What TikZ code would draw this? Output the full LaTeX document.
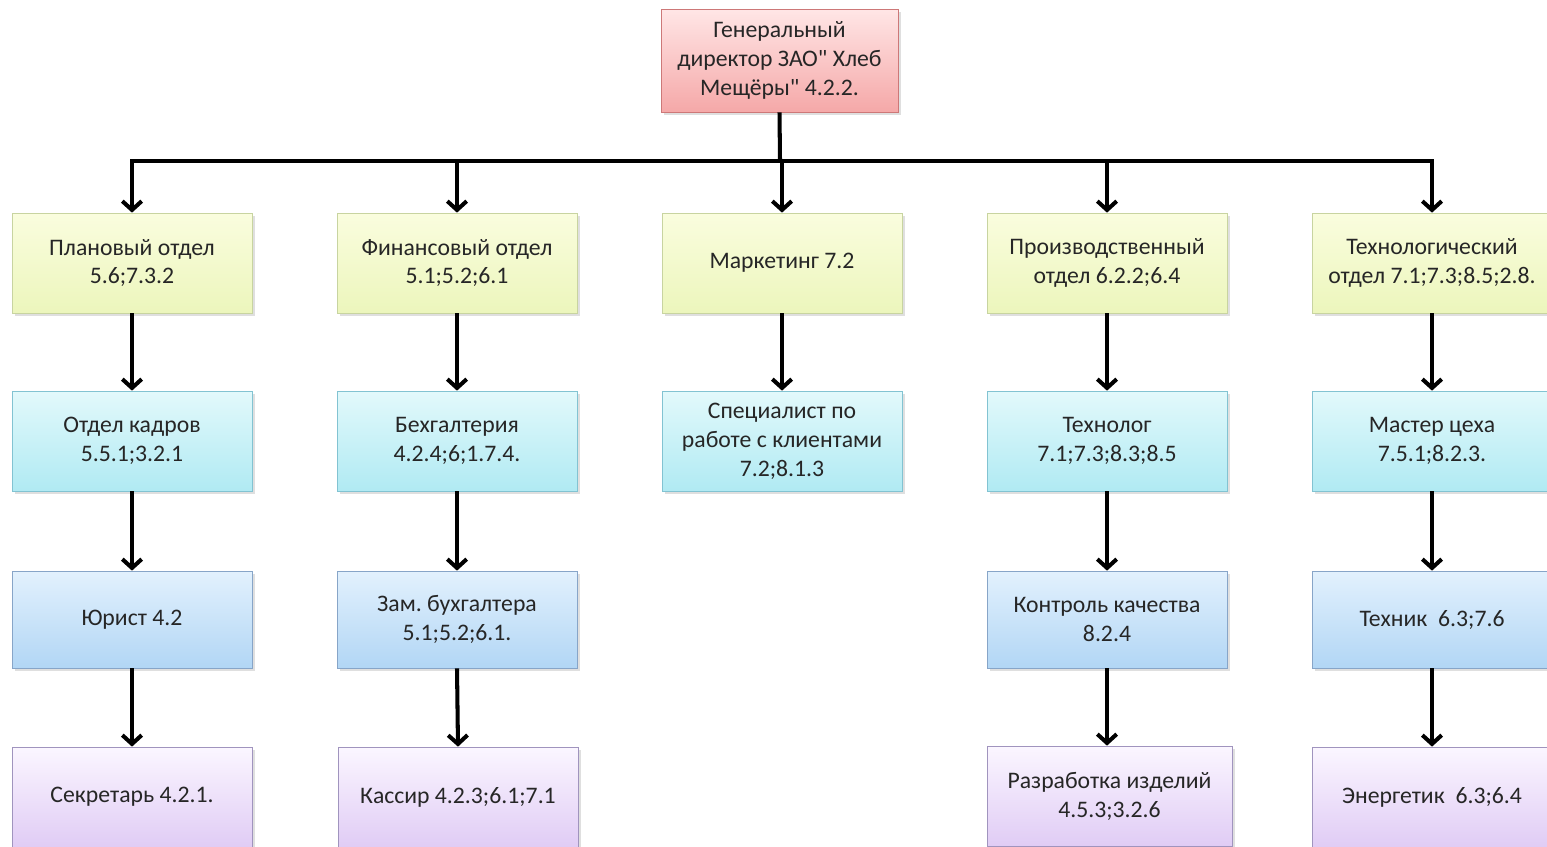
\documentclass[tikz,border=0pt]{standalone}
\usepackage{fontspec}
\setmainfont{Carlito}
\usetikzlibrary{arrows.meta,shadows}

\definecolor{pinkT}{RGB}{255,230,230}
\definecolor{pinkB}{RGB}{245,168,168}
\definecolor{pinkD}{RGB}{205,120,120}
\definecolor{yelT}{RGB}{250,253,222}
\definecolor{yelB}{RGB}{236,246,188}
\definecolor{yelD}{RGB}{200,212,160}
\definecolor{cyaT}{RGB}{226,249,251}
\definecolor{cyaB}{RGB}{176,234,243}
\definecolor{cyaD}{RGB}{130,195,210}
\definecolor{bluT}{RGB}{226,241,253}
\definecolor{bluB}{RGB}{178,214,245}
\definecolor{bluD}{RGB}{135,165,200}
\definecolor{vioT}{RGB}{251,246,255}
\definecolor{vioB}{RGB}{224,204,245}
\definecolor{vioD}{RGB}{160,148,190}

\begin{document}
\begin{tikzpicture}[x=0.02cm,y=-0.02cm,
    box/.style={draw,align=center,minimum width=4.8cm,minimum height=2cm,
        inner sep=2pt,font=\fontsize{13.5}{16.5}\selectfont,text=black!85,
        drop shadow={shadow xshift=1.5pt,shadow yshift=-1.5pt,opacity=0.25}},
    red/.style={box,draw=pinkD,top color=pinkT,bottom color=pinkB},
    yel/.style={box,draw=yelD,top color=yelT,bottom color=yelB},
    cya/.style={box,draw=cyaD,top color=cyaT,bottom color=cyaB},
    blu/.style={box,draw=bluD,top color=bluT,bottom color=bluB},
    vio/.style={box,draw=vioD,top color=vioT,bottom color=vioB},
    arr/.style={line width=2.3pt,-{Straight Barb[length=5pt,width=11pt]}},
    bus/.style={line width=2.3pt}]
    \useasboundingbox (0,0) rectangle (1547,846);

    % top
    \node[red,minimum width=4.74cm,minimum height=2.06cm] (gen) at (779.5,60.5)
        {Генеральный\\директор ЗАО\textquotedbl{} Хлеб\\Мещёры\textquotedbl{} 4.2.2.};

    % departments
    \node[yel] (pl)  at (132,263)  {Плановый отдел\\5.6;7.3.2};
    \node[yel] (fin) at (457,263)  {Финансовый отдел\\5.1;5.2;6.1};
    \node[yel] (mar) at (782,263)  {Маркетинг 7.2};
    \node[yel] (pro) at (1107,263) {Производственный\\отдел 6.2.2;6.4};
    \node[yel] (teh) at (1432,263) {Технологический\\отдел 7.1;7.3;8.5;2.8.};

    % second row
    \node[cya] (kad) at (132,441)  {Отдел кадров\\5.5.1;3.2.1};
    \node[cya] (buh) at (457,441)  {Бехгалтерия\\4.2.4;6;1.7.4.};
    \node[cya] (spe) at (782,441)  {Специалист по\\работе с клиентами\\7.2;8.1.3};
    \node[cya] (tnl) at (1107,441) {Технолог\\7.1;7.3;8.3;8.5};
    \node[cya] (mas) at (1432,441) {Мастер цеха\\7.5.1;8.2.3.};

    % third row
    \node[blu,minimum height=1.94cm] (yur) at (132,619.5)  {Юрист 4.2};
    \node[blu,minimum height=1.94cm] (zam) at (457,619.5)  {Зам.\ бухгалтера\\5.1;5.2;6.1.};
    \node[blu,minimum height=1.94cm] (kon) at (1107,619.5) {Контроль качества\\8.2.4};
    \node[blu,minimum height=1.94cm] (tnk) at (1432,619.5) {Техник\ \ 6.3;7.6};

    % fourth row
    \node[vio] (sek) at (132,797)  {Секретарь 4.2.1.};
    \node[vio] (kas) at (458,797)  {Кассир 4.2.3;6.1;7.1};
    \node[vio,minimum width=4.9cm] (raz) at (1109.5,796) {Разработка изделий\\4.5.3;3.2.6};
    \node[vio] (ene) at (1432,797) {Энергетик\ \ 6.3;6.4};

    % connectors
    \coordinate (J) at (780,161);
    \draw[bus] (gen.south) -- (J);
    \draw[arr] (J) -| (pl.north);
    \draw[arr] (J) -| (teh.north);
    \foreach \n in {fin,mar,pro}
        \draw[arr] (\n.north |- J) -- (\n.north);

    \foreach \a/\b in {pl/kad,kad/yur,yur/sek,fin/buh,buh/zam,zam/kas,
        mar/spe,pro/tnl,tnl/kon,teh/mas,mas/tnk,tnk/ene}
        \draw[arr] (\a.south) -- (\b.north);
    \draw[arr] (kon.south) -- (kon.south |- raz.north);
\end{tikzpicture}
\end{document}
